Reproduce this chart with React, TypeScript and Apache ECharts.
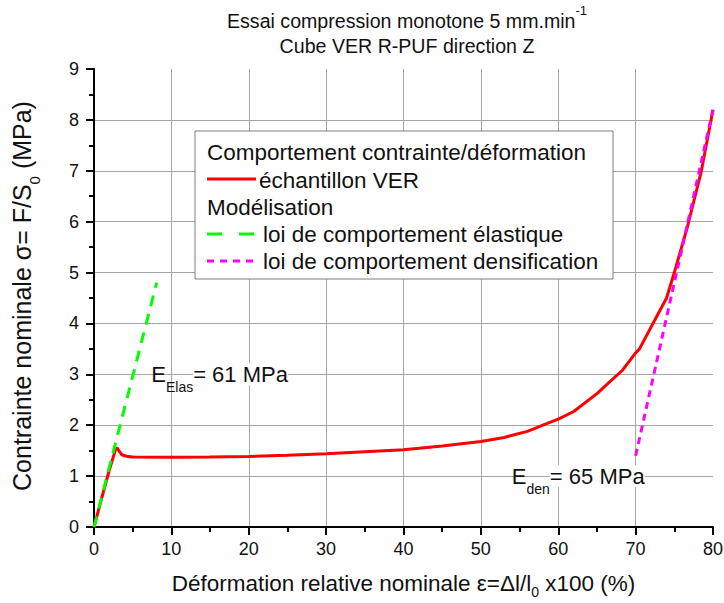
import React, { useEffect, useRef } from "react";
import * as echarts from "echarts";

// ---- data ----
const strainVER = [0, 1, 2, 2.8, 3.0, 3.2, 3.6, 4.2, 5, 10, 15, 20, 25, 30, 35, 40, 45, 50, 53, 56, 57, 58, 60, 62, 65, 67, 68.3, 70, 70.5, 72, 74, 75, 76.7, 78.5, 80];
const stressVER = [0, 0.57, 1.13, 1.53, 1.55, 1.5, 1.42, 1.39, 1.375, 1.37, 1.375, 1.385, 1.41, 1.44, 1.48, 1.52, 1.59, 1.68, 1.76, 1.88, 1.94, 2.0, 2.12, 2.27, 2.62, 2.9, 3.08, 3.42, 3.5, 3.93, 4.5, 5.0, 5.9, 7.0, 8.2];
const strainElas = [0, 8.1];
const stressElas = [0, 4.8];
const strainDens = [70, 80];
const stressDens = [1.4, 8.2];

const xMin = 0, xMax = 80, xStep = 10;
const yMin = 0, yMax = 9, yStep = 1;

const annotElas = { x: 7.4, y: 3.0, sub: "Elas", value: "= 61 MPa" };
const annotDens = { x: 54.0, y: 1.0, sub: "den", value: "= 65 MPa" };

const titleLine1 = "Essai compression monotone 5 mm.min";
const titleSup = "-1";
const titleLine2 = "Cube VER R-PUF direction Z";
const xName = ["Déformation relative nominale ε=Δl/l", "0", " x100 (%)"];
const yName = ["Contrainte nominale σ= F/S", "0", " (MPa)"];

const legendHead1 = "Comportement contrainte/déformation";
const legendVER = "échantillon VER";
const legendHead2 = "Modélisation";
const legendElas = "loi de comportement élastique";
const legendDens = "loi de comportement densification";

const FONT = '"Liberation Sans", Arial, Helvetica, sans-serif';
const TXT = "#111111";
const RED = "#ff0000";
const GREEN = "#00ff00";
const MAGENTA = "#ff00ff";

const pairs = (xs: number[], ys: number[]) => xs.map((x, i) => [x, ys[i]]);

const subRich = (size: number, sub: number, lh: number, pad: number) => ({
  a: { fontSize: size, fontFamily: FONT, color: TXT, lineHeight: lh },
  s: { fontSize: sub, fontFamily: FONT, color: TXT, lineHeight: 10, padding: [pad, 0, 0, 0] },
});

const annotLabel = (a: { sub: string; value: string }) => ({
  show: true,
  position: "right",
  distance: 0,
  formatter: `{e|E}{s|${a.sub}}{v|${a.value}}`,
  rich: {
    e: { fontSize: 22, fontFamily: FONT, color: TXT, lineHeight: 26 },
    s: { fontSize: 14, fontFamily: FONT, color: TXT, lineHeight: 10, padding: [25, 0, 0, 0] },
    v: { fontSize: 22, fontFamily: FONT, color: TXT, lineHeight: 26, backgroundColor: "#fff" },
  },
});

export default function App() {
  const ref = useRef<HTMLDivElement>(null);
  useEffect(() => {
    document.body.style.margin = "0";
    if (!ref.current) return;
    const chart = echarts.init(ref.current, undefined, { renderer: "svg" });

    const axisCommon = {
      type: "value" as const,
      axisLine: { show: true, onZero: false, lineStyle: { color: "#000", width: 2 } },
      axisTick: { show: true, inside: false, length: 8, lineStyle: { color: "#000", width: 2 } },
      minorTick: { show: true, splitNumber: 2, length: 5, lineStyle: { color: "#000", width: 2 } },
      axisLabel: { fontSize: 18, color: TXT, fontFamily: FONT },
      splitLine: { show: true, showMinLine: false, showMaxLine: false, lineStyle: { color: "#a6a6a6", width: 1 } },
      minorSplitLine: { show: false },
    };

    const legendX = 207;
    const LF = 22.5;
    const option: any = {
      animation: false,
      backgroundColor: "#ffffff",
      title: {
        text: `{a|${titleLine1}}{sup|${titleSup}}\n{a|${titleLine2}}`,
        left: 407,
        top: 8,
        textAlign: "center",
        padding: 0,
        textStyle: {
          fontFamily: FONT,
          fontSize: 19.6,
          fontWeight: "normal",
          color: TXT,
          lineHeight: 25,
          rich: {
            a: { fontSize: 19.6, fontFamily: FONT, color: TXT, lineHeight: 25 },
            sup: { fontSize: 13, fontFamily: FONT, color: TXT, lineHeight: 10, padding: [0, 0, 20, 0] },
          },
        },
      },
      grid: { left: 94, right: 11, top: 69, bottom: 76, containLabel: false, outerBoundsMode: "none" },
      xAxis: {
        ...axisCommon,
        min: xMin,
        max: xMax,
        interval: xStep,
        axisLabel: { ...axisCommon.axisLabel, margin: 13 },
        name: `{a|${xName[0]}}{s|${xName[1]}}{a|${xName[2]}}`,
        nameLocation: "middle",
        nameGap: 44,
        nameTextStyle: { fontFamily: FONT, fontSize: 22.5, color: TXT, rich: subRich(22.5, 14, 24, 18) },
      },
      yAxis: {
        ...axisCommon,
        min: yMin,
        max: yMax,
        interval: yStep,
        axisLabel: { ...axisCommon.axisLabel, margin: 15 },
        name: `{a|${yName[0]}}{s|${yName[1]}}{a|${yName[2]}}`,
        nameLocation: "middle",
        nameRotate: 90,
        nameGap: 58,
        nameTextStyle: { fontFamily: FONT, fontSize: 25, color: TXT, padding: [0, 0, 0, 4], rich: subRich(25, 15, 28, 24) },
      },
      series: [
        {
          name: legendVER,
          type: "line",
          data: pairs(strainVER, stressVER),
          showSymbol: false,
          symbol: "none",
          lineStyle: { color: RED, width: 3 },
          z: 2,
          silent: true,
        },
        {
          name: legendElas,
          type: "line",
          data: pairs(strainElas, stressElas),
          symbol: "none",
          lineStyle: { color: GREEN, width: 3, type: [11, 8] },
          z: 3,
          silent: true,
          markPoint: {
            symbol: "circle",
            symbolSize: 0,
            silent: true,
            data: [{ coord: [annotElas.x, annotElas.y], label: annotLabel(annotElas) }],
          },
        },
        {
          name: legendDens,
          type: "line",
          data: pairs(strainDens, stressDens),
          symbol: "none",
          lineStyle: { color: MAGENTA, width: 3, type: [7, 5] },
          z: 3,
          silent: true,
          markPoint: {
            symbol: "circle",
            symbolSize: 0,
            silent: true,
            data: [{ coord: [annotDens.x, annotDens.y], label: annotLabel(annotDens) }],
          },
        },
      ],
      graphic: {
        elements: [
          {
            type: "rect",
            z: 10,
            shape: { x: 195, y: 131, width: 418, height: 148 },
            style: { fill: "#ffffff", stroke: "#7f7f7f", lineWidth: 1 },
          },
          {
            type: "text", z: 11, x: legendX, y: 152,
            style: { text: legendHead1, fontSize: LF, fontFamily: FONT, fill: TXT, verticalAlign: "middle" },
          },
          {
            type: "line", z: 11,
            shape: { x1: legendX, y1: 179, x2: legendX + 49, y2: 179 },
            style: { stroke: RED, lineWidth: 3 },
          },
          {
            type: "text", z: 11, x: 259, y: 180,
            style: { text: legendVER, fontSize: LF, fontFamily: FONT, fill: TXT, verticalAlign: "middle" },
          },
          {
            type: "text", z: 11, x: legendX, y: 207,
            style: { text: legendHead2, fontSize: LF, fontFamily: FONT, fill: TXT, verticalAlign: "middle" },
          },
          {
            type: "line", z: 11,
            shape: { x1: legendX, y1: 234, x2: legendX + 47, y2: 234 },
            style: { stroke: GREEN, lineWidth: 3, lineDash: [15, 17] },
          },
          {
            type: "text", z: 11, x: 263, y: 234,
            style: { text: legendElas, fontSize: LF, fontFamily: FONT, fill: TXT, verticalAlign: "middle" },
          },
          {
            type: "line", z: 11,
            shape: { x1: legendX, y1: 261, x2: legendX + 46, y2: 261 },
            style: { stroke: MAGENTA, lineWidth: 3, lineDash: [7, 6] },
          },
          {
            type: "text", z: 11, x: 263, y: 261,
            style: { text: legendDens, fontSize: LF, fontFamily: FONT, fill: TXT, verticalAlign: "middle" },
          },
        ],
      },
    };
    chart.setOption(option);
    return () => chart.dispose();
  }, []);
  return <div ref={ref} style={{ width: 724, height: 603, background: "#fff" }} />;
}
